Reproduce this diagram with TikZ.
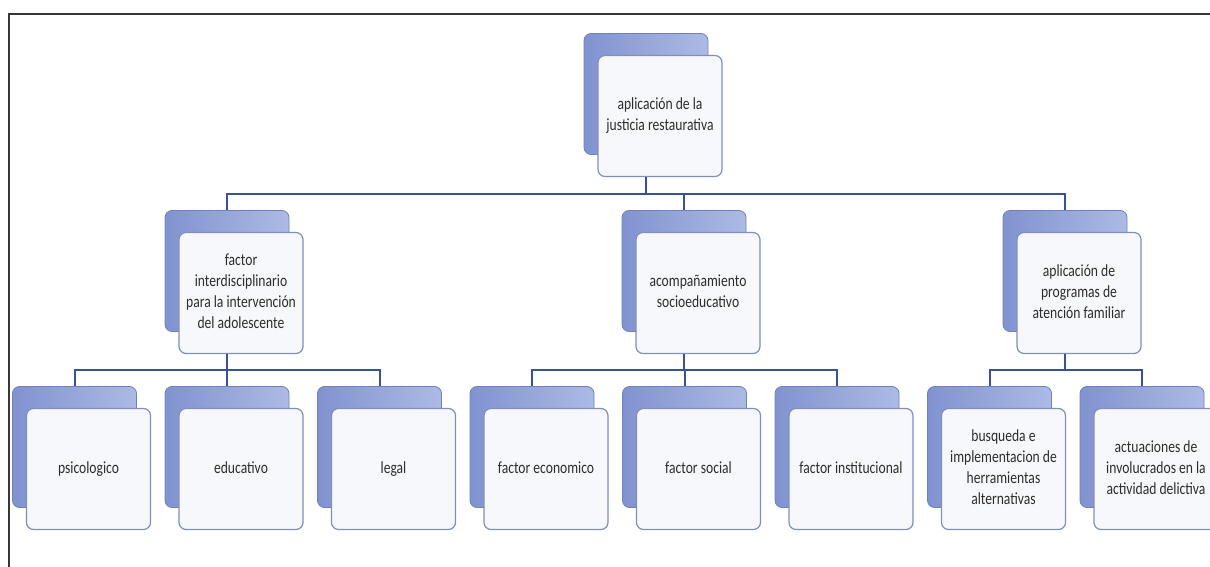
\documentclass[tikz,border=0pt]{standalone}
\usepackage{fontspec}
\setmainfont{Carlito}
\usepackage{graphicx}
\usetikzlibrary{positioning}
\definecolor{backtop}{RGB}{128,147,208}
\definecolor{backbot}{RGB}{172,186,229}
\definecolor{backline}{RGB}{112,130,190}
\definecolor{frontfill}{RGB}{247,248,252}
\definecolor{frontline}{RGB}{128,143,190}
\definecolor{linkcol}{RGB}{55,82,155}
\definecolor{txt}{RGB}{45,45,45}
\definecolor{framecol}{RGB}{55,55,55}
\newcommand{\lbl}[1]{\scalebox{0.8}[1]{\begin{tabular}{@{}c@{}}#1\end{tabular}}}
\tikzset{
  back/.style  = {draw=backline, line width=0.8pt, rounded corners=7pt, left color=backtop, right color=backbot, minimum width=124pt, minimum height=121pt, inner sep=0pt},
  front/.style = {draw=frontline, line width=1.2pt, fill=frontfill, rounded corners=7pt, minimum width=124pt, minimum height=121pt, inner sep=0pt, text=txt, font=\fontsize{17}{21}\selectfont},
  link/.style  = {draw=linkcol, line width=2pt},
  frame/.style = {draw=framecol, line width=2pt}
}

\begin{document}
\begin{tikzpicture}[x=1pt,y=-1pt]
		\useasboundingbox[fill=white] (0,0) rectangle (1210,567);
		\clip (0,0) rectangle (1210,567);
		\draw[frame] (9,567) -- (9,14) -- (1210,14);

		% top
		\node[back] (topb) at (646,94) {};
		\node[front] (topf) at (660,116) {\lbl{aplicación de la\\justicia restaurativa}};

		% second row
		\node[back] (interb) at (227,271) {};
		\node[front] (interf) at (241,293) {\lbl{factor\\interdisciplinario\\para la intervención\\del adolescente}};
		\node[back] (acompb) at (684,271) {};
		\node[front] (acompf) at (698,293) {\lbl{acompañamiento\\socioeducativo}};
		\node[back] (progb) at (1065,271) {};
		\node[front] (progf) at (1079,293) {\lbl{aplicación de\\programas de\\atención familiar}};

		% third row
		\node[back] (psicob) at (74.5,447) {};
		\node[front] (psicof) at (88.5,469) {\lbl{psicologico}};
		\node[back] (educb) at (227,447) {};
		\node[front] (educf) at (241,469) {\lbl{educativo}};
		\node[back] (legalb) at (379.5,447) {};
		\node[front] (legalf) at (393.5,469) {\lbl{legal}};
		\node[back] (econb) at (532,447) {};
		\node[front] (econf) at (546,469) {\lbl{factor economico}};
		\node[back] (socb) at (684.5,447) {};
		\node[front] (socf) at (698.5,469) {\lbl{factor social}};
		\node[back] (instb) at (837,447) {};
		\node[front] (instf) at (851,469) {\lbl{factor institucional}};
		\node[back] (busqb) at (989.5,447) {};
		\node[front] (busqf) at (1003.5,469) {\lbl{busqueda e\\implementacion de\\herramientas\\alternativas}};
		\node[back] (actub) at (1142,447) {};
		\node[front] (actuf) at (1156,469) {\lbl{actuaciones de\\involucrados en la\\actividad delictiva}};

		% buses
		\coordinate (bus1) at (0,194);
		\coordinate (bus2) at (0,370);

		\draw[link] (topb.center |- topf.south) -- (topb.center |- bus1) -| (interb.north);
		\draw[link] (topb.center |- bus1) -| (acompb.north);
		\draw[link] (topb.center |- bus1) -| (progb.north);

		\draw[link] (interb.center |- interf.south) -- (interb.center |- bus2) -| (psicob.north);
		\draw[link] (interb.center |- bus2) -| (educb.north);
		\draw[link] (interb.center |- bus2) -| (legalb.north);

		\draw[link] (acompb.center |- acompf.south) -- (acompb.center |- bus2) -| (econb.north);
		\draw[link] (acompb.center |- bus2) -| (socb.north);
		\draw[link] (acompb.center |- bus2) -| (instb.north);

		\draw[link] (progb.center |- progf.south) -- (progb.center |- bus2) -| (busqb.north);
		\draw[link] (progb.center |- bus2) -| (actub.north);
	\end{tikzpicture}
\end{document}
